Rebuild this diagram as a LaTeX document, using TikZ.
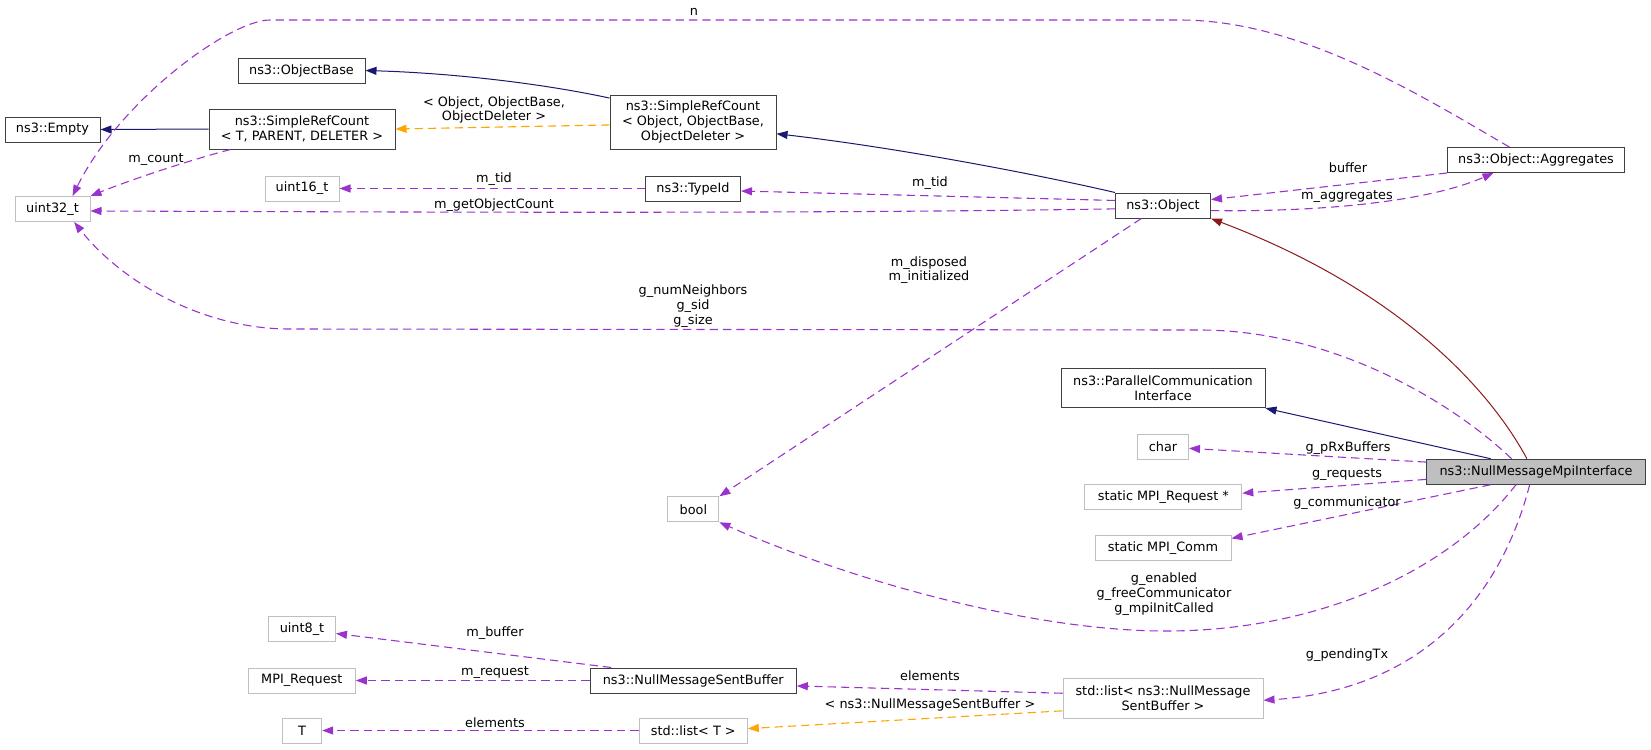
\documentclass[tikz,border=0pt]{standalone}
\usepackage{fontspec}
\setmainfont{DejaVu Sans}
\usetikzlibrary{arrows.meta}
\definecolor{usecol}{HTML}{9A32CD}
\definecolor{inhcol}{HTML}{191970}
\definecolor{tplcol}{HTML}{FFA500}
\definecolor{privcol}{HTML}{8B1A1A}
\definecolor{boxgray}{HTML}{BFBFBF}
\def\pxu{0.6pt}
\begin{document}
\begin{tikzpicture}[x=0.6pt,y=-0.6pt,
  every node/.style={font=\fontsize{7.7}{8.8}\selectfont, inner sep=0pt, align=center},
  cls/.style={draw=black!75, line width=0.6pt, fill=white, minimum height=25*\pxu},
  ext/.style={cls, draw=boxgray},
  main/.style={cls, fill=boxgray},
  tip/.style={-{Triangle[length=6.6pt,width=4.8pt]}},
  use/.style={draw=usecol, line width=0.65pt, dash pattern=on 5pt off 3pt, tip},
  tpl/.style={draw=tplcol, line width=0.65pt, dash pattern=on 5pt off 3pt, tip},
  inh/.style={draw=inhcol, line width=0.6pt, tip},
  priv/.style={draw=privcol, line width=0.6pt, tip}]
\useasboundingbox (0,0) rectangle (1651,749);
\node[cls, minimum width=95*\pxu] (emp) at (52.5,129.5) {ns3::Empty};
\node[cls, minimum width=127*\pxu] (obase) at (301.5,70.5) {ns3::ObjectBase};
\node[cls, minimum width=186*\pxu, minimum height=40*\pxu] (srcT) at (302,129) {ns3::SimpleRefCount\\< T, PARENT, DELETER >};
\node[ext, minimum width=75*\pxu] (u32) at (52.5,209) {uint32\_t};
\node[ext, minimum width=74*\pxu] (u16) at (302,188.5) {uint16\_t};
\node[cls, minimum width=95*\pxu] (tid) at (693,188.5) {ns3::TypeId};
\node[cls, minimum width=166*\pxu, minimum height=54*\pxu] (srcO) at (693,122) {ns3::SimpleRefCount\\< Object, ObjectBase,\\ObjectDeleter >};
\node[cls, minimum width=95*\pxu] (obj) at (1163,205.5) {ns3::Object};
\node[cls, minimum width=177*\pxu] (agg) at (1536,160) {ns3::Object::Aggregates};
\node[cls, minimum width=204*\pxu, minimum height=39.4*\pxu] (pci) at (1163,388) {ns3::ParallelCommunication\\Interface};
\node[ext, minimum width=51*\pxu] (chr) at (1163,446.5) {char};
\node[ext, minimum width=51*\pxu] (boo) at (693.4,509.3) {bool};
\node[ext, minimum width=157*\pxu] (mreq) at (1163.3,497.3) {static MPI\_Request *};
\node[ext, minimum width=136*\pxu] (mcomm) at (1163,548) {static MPI\_Comm};
\node[main, minimum width=219*\pxu] (nmmi) at (1536,471.7) {ns3::NullMessageMpiInterface};
\node[ext, minimum width=67*\pxu] (u8) at (302,629.3) {uint8\_t};
\node[ext, minimum width=107*\pxu] (mpir) at (301.8,680.5) {MPI\_Request};
\node[ext, minimum width=39.4*\pxu] (tT) at (302,730.5) {T};
\node[cls, minimum width=206*\pxu] (nmsb) at (693.3,680.5) {ns3::NullMessageSentBuffer};
\node[ext, minimum width=108*\pxu] (lstT) at (693.3,730.5) {std::list< T >};
\node[ext, minimum width=200*\pxu, minimum height=40*\pxu] (lstN) at (1163,698.5) {std::list< ns3::NullMessage\\SentBuffer >};

\draw[inh] (srcO.164.5) .. controls (540,83) and (450,73) .. (obase.east);
\draw[inh] (srcT.west) -- (emp.east);
\draw[tpl] (srcO.182) -- (srcT.east);
\draw[inh] (obj.north west) .. controls (1040,175) and (900,148) .. (srcO.352.5);
\draw[use] (tid.west) -- (u16.east);
\draw[use] (obj.174.6) -- (tid.357.6);
\draw[use] (obj.184.2) .. controls (800,214) and (400,212) .. (u32.357);
\draw[use] (agg.south west) -- (obj.7.8);
\draw[use] (obj.354.6) .. controls (1300,212) and (1420,205) .. (agg.197.8);
\draw[priv] (nmmi.125.3) .. controls (1490,390) and (1400,290) .. (obj.south east);
\draw[inh] (nmmi.164.6) -- (pci.south east);
\draw[use] (nmmi.175.6) -- (chr.356);
\draw[use] (nmmi.184.3) -- (mreq.3.4);
\draw[use] (nmmi.196.5) -- (mcomm.8.1);
\draw[use] (nmmi.213.8) .. controls (1450,570) and (1320,631) .. (1166,631) .. controls (1030,631) and (850,580) .. (boo.south east);
\draw[use] (obj.211.4) -- (boo.north east);
\draw[use] (srcT.196.2) .. controls (190,160) and (130,180) .. (u32.north east);
\draw[use] (nmmi.244.7) .. controls (1500,600) and (1420,690) .. (lstN.359);
\draw[use] (lstN.177.6) -- (nmsb.357.8);
\draw[tpl] (lstN.187.5) -- (lstT.2.1);
\draw[use] (lstT.west) -- (tT.east);
\draw[use] (nmsb.171.5) -- (u8.353.2);
\draw[use] (nmsb.west) -- (mpir.east);
\draw[use] (agg.154.3) .. controls (1420,95) and (1300,20) .. (1180,20) -- (270,20) .. controls (230,20) and (120,100) .. (u32.33.3);
\draw[use] (nmmi.152.1) .. controls (1450,400) and (1330,330) .. (1200,330) -- (290,329) .. controls (200,329) and (120,280) .. (u32.329.5);

\node (l-n) at (694,12) {n};
\node (l-tpl1) at (494,110) {< Object, ObjectBase,\\ObjectDeleter >};
\node (l-count) at (156,159) {m\_count};
\node (l-tid1) at (494,179) {m\_tid};
\node (l-goc) at (494,205) {m\_getObjectCount};
\node (l-tid2) at (930,183) {m\_tid};
\node (l-buf) at (1348,168) {buffer};
\node (l-aggr) at (1347,196) {m\_aggregates};
\node (l-disp) at (929,270) {m\_disposed\\m\_initialized};
\node (l-nbr) at (693,306) {g\_numNeighbors\\g\_sid\\g\_size};
\node (l-rxb) at (1348,448) {g\_pRxBuffers};
\node (l-req) at (1347,474) {g\_requests};
\node (l-comm) at (1347,503) {g\_communicator};
\node (l-enab) at (1164,594) {g\_enabled\\g\_freeCommunicator\\g\_mpiInitCalled};
\node (l-pend) at (1347,655) {g\_pendingTx};
\node (l-mbuf) at (495,633) {m\_buffer};
\node (l-mreq) at (495,672) {m\_request};
\node (l-elem2) at (930,676) {elements};
\node (l-tpl2) at (930,705) {< ns3::NullMessageSentBuffer >};
\node (l-elem1) at (495,723) {elements};
\end{tikzpicture}
\end{document}
